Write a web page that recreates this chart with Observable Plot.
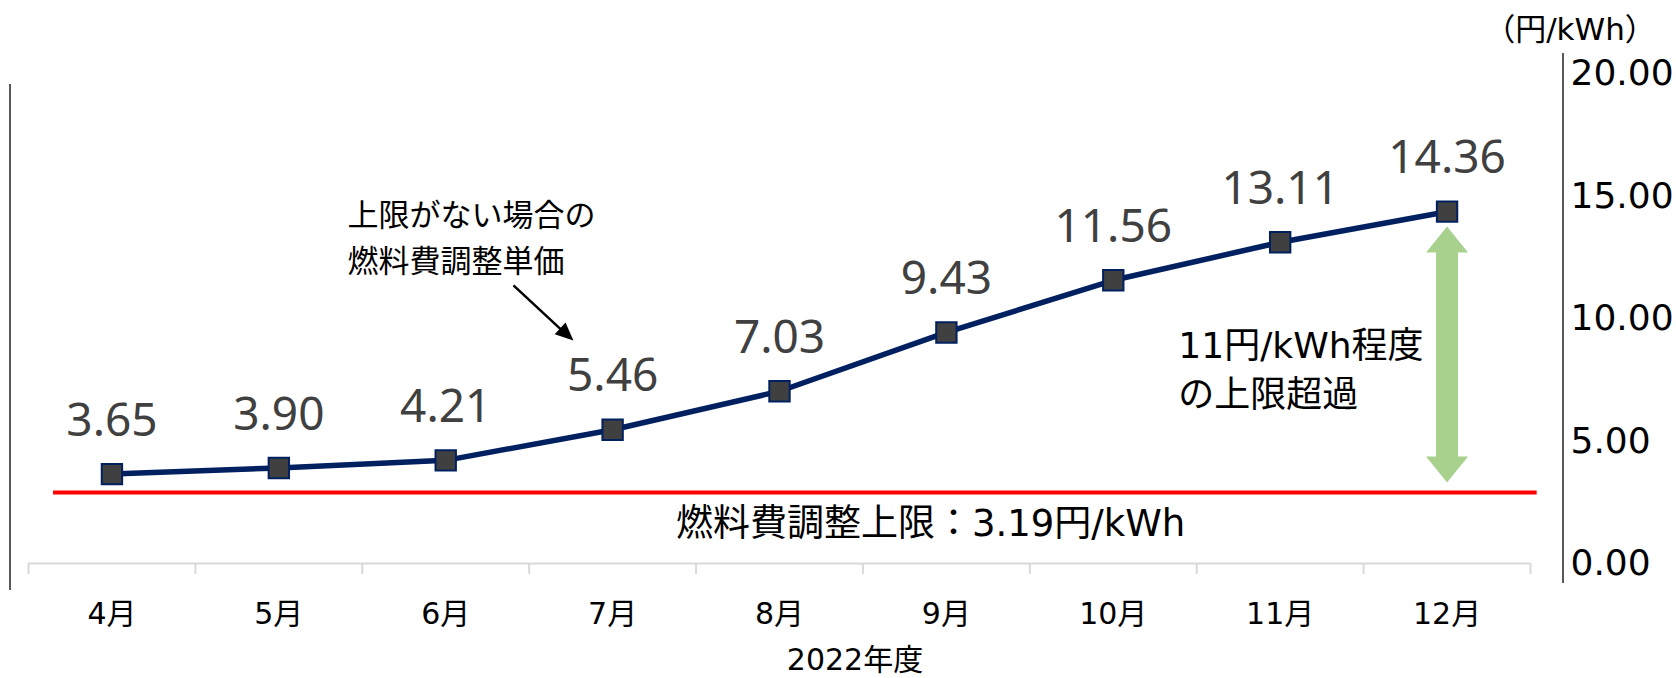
<!DOCTYPE html>
<html>
<head>
<meta charset="utf-8">
<script src="https://cdn.jsdelivr.net/npm/d3@7"></script>
<script src="https://cdn.jsdelivr.net/npm/@observablehq/plot@0.6"></script>
<style>
  html, body { margin: 0; padding: 0; background: #fff; }
  #wrap { position: relative; width: 1676px; height: 678px; overflow: hidden; background: #fff; }
  #chart { position: absolute; left: 0; top: 0; }
  .vline { position: absolute; width: 2px; background: #595959; }
  .ttl { position: absolute; transform: translate(-50%, -50%); white-space: nowrap; line-height: 1;
         font-family: "DejaVu Sans", "Noto Sans CJK JP", sans-serif; color: #000; }
</style>
</head>
<body>
<div id="wrap">
  <div id="chart"></div>
  <div class="vline" style="left:9px; top:84px; height:506px;"></div>
  <div class="vline" style="left:1562px; top:53px; height:530px;"></div>
  <div class="ttl" style="left:1570px; top:29px; font-size:31px;">（円/kWh）</div>
  <div class="ttl" style="left:855px; top:660px; font-size:30px;">2022年度</div>
</div>
<script>
// ---- data ----
const months = ["4月", "5月", "6月", "7月", "8月", "9月", "10月", "11月", "12月"];
const prices = [3.65, 3.90, 4.21, 5.46, 7.03, 9.43, 11.56, 13.11, 14.36];
const yTicks = [0, 5, 10, 15, 20];
const limitValue = 3.19;          // 燃料費調整上限 (label)
const limitLineLevel = 2.9;       // where the red line is drawn in the picture
const overshootTop = 13.76;       // green double arrow extent
const overshootBottom = 3.31;
const noteUnlimited = "上限がない場合の\n燃料費調整単価";
const noteOvershoot = "11円/kWh程度\nの上限超過";
const noteLimit = `燃料費調整上限：${limitValue.toFixed(2)}円/kWh`;

const series = months.map((m, i) => ({i, m, v: prices[i]}));
const boundaries = d3.range(months.length + 1).map(k => k - 0.5);

const FONT = '"DejaVu Sans", "Noto Sans CJK JP", sans-serif';

const headUpBig = {draw(ctx) { ctx.moveTo(0, 0); ctx.lineTo(21, 26); ctx.lineTo(-21, 26); ctx.closePath(); }};
const headUpSmall = {draw(ctx) { ctx.moveTo(0, 0); ctx.lineTo(8, 18); ctx.lineTo(-8, 18); ctx.closePath(); }};

const chart = Plot.plot({
  width: 1676,
  height: 678,
  marginTop: 73,
  marginBottom: 115,
  marginLeft: 28,
  marginRight: 146,
  style: {fontFamily: FONT, background: "transparent", color: "#000", overflow: "visible"},
  x: {type: "linear", domain: [-0.5, months.length - 0.5]},
  y: {domain: [0, 20]},
  marks: [
    // x axis line + boundary ticks
    Plot.ruleY([0], {stroke: "#d9d9d9", strokeWidth: 2}),
    Plot.axisX(boundaries, {tickSize: 11, stroke: "#d9d9d9", strokeWidth: 2, tickFormat: () => "", label: null}),
    Plot.axisX(d3.range(months.length), {tickSize: 0, tickPadding: 39, tickFormat: i => months[i],
      fontSize: 30, fill: "#000", label: null}),
    // right y axis labels
    Plot.axisY(yTicks, {anchor: "right", tickSize: 0, tickPadding: 40, tickFormat: d => d.toFixed(2),
      fontSize: 36, fill: "#000", label: null}),
    // green double arrow
    Plot.ruleX([{x: months.length - 1, a: overshootTop - 0.9, b: overshootBottom + 0.9}],
      {x: "x", y1: "a", y2: "b", stroke: "#a9d18e", strokeWidth: 22}),
    Plot.dot([{x: months.length - 1, y: overshootTop}], {x: "x", y: "y", symbol: headUpBig, r: 10, fill: "#a9d18e"}),
    Plot.dot([{x: months.length - 1, y: overshootBottom}], {x: "x", y: "y", symbol: headUpBig, r: 10, rotate: 180, fill: "#a9d18e"}),
    // red limit line
    Plot.ruleY([{y: limitLineLevel, x1: -0.35, x2: 8.54}], {y: "y", x1: "x1", x2: "x2", stroke: "#ff0000", strokeWidth: 4}),
    // data line + markers + labels
    Plot.line(series, {x: "i", y: "v", stroke: "#002060", strokeWidth: 5.5}),
    Plot.dot(series, {x: "i", y: "v", symbol: "square", r: 11.5, fill: "#404040", stroke: "#002060", strokeWidth: 2}),
    Plot.text(series, {x: "i", y: "v", text: d => d.v.toFixed(2), dy: -53, fontSize: 46,
      fontFamily: '"Noto Sans", sans-serif', fill: "#404040"}),
    // annotations
    Plot.text([{x: 1.411, y: 13.43, t: noteUnlimited}], {x: "x", y: "y", text: "t", textAnchor: "start",
      lineAnchor: "middle", fontSize: 31, lineHeight: 1.48, fill: "#000"}),
    Plot.link([{x1: 2.406, y1: 11.35, x2: 2.74, y2: 9.24}], {x1: "x1", y1: "y1", x2: "x2", y2: "y2",
      stroke: "#000", strokeWidth: 2.5}),
    Plot.dot([{x: 2.765, y: 9.10}], {x: "x", y: "y", symbol: headUpSmall, r: 8, rotate: 132.5, fill: "#000"}),
    Plot.text([{x: 6.39, y: 8.02, t: noteOvershoot}], {x: "x", y: "y", text: "t", textAnchor: "start",
      lineAnchor: "middle", fontSize: 36, lineHeight: 1.36, fill: "#000"}),
    Plot.text([{x: 4.905, y: 1.6, t: noteLimit}], {x: "x", y: "y", text: "t", textAnchor: "middle",
      lineAnchor: "middle", fontSize: 37, fill: "#000"})
  ]
});
document.getElementById("chart").appendChild(chart);
</script>
</body>
</html>
